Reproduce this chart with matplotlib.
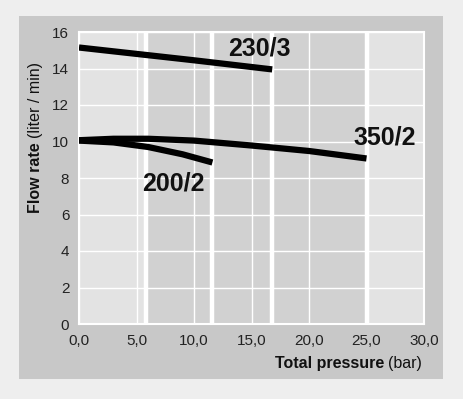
import numpy as np
import matplotlib
matplotlib.use('Agg')
import matplotlib.pyplot as plt
from matplotlib.patches import Rectangle

plt.rcParams['font.family'] = ['Liberation Sans', 'DejaVu Sans']

# pump curves: pressure (bar) vs flow rate (l/min)
p_230 = [0, 5, 10, 16.8]
q_230 = [15.15, 14.8, 14.45, 13.95]
p_350 = [0, 3, 6, 10, 15, 20, 25]
q_350 = [10.07, 10.15, 10.15, 10.05, 9.78, 9.48, 9.07]
p_200 = [0, 3, 6, 9, 11.6]
q_200 = [10.05, 9.95, 9.7, 9.3, 8.85]

labels = ['230/3', '350/2', '200/2']
label_pos = [(15.7, 15.1), (26.6, 10.2), (8.2, 7.7)]

limit_lines = [5.8, 11.6, 16.8, 25.0]   # thick white verticals
band = (5.8, 25.0)                      # darker region

xticks = [0, 5, 10, 15, 20, 25, 30]
yticks = [0, 2, 4, 6, 8, 10, 12, 14, 16]

W, H = 463, 399
fig = plt.figure(figsize=(W/100, H/100), dpi=100)
fig.patch.set_facecolor('#eeeeee')

# grey panel behind the chart
fig.patches.append(Rectangle((19/W, 1-379/H), 424/W, 363/H,
                             transform=fig.transFigure, facecolor='#c8c8c8',
                             edgecolor='none', zorder=-1))

ax = fig.add_axes([79/W, 1-324/H, 345/W, 292/H])
ax.set_zorder(2)
ax.set_facecolor('#e3e3e3')
ax.axvspan(band[0], band[1], color='#d1d1d1', zorder=0, lw=0)

ax.set_xlim(0, 30)
ax.set_ylim(0, 16)
ax.set_xticks(xticks)
ax.set_yticks(yticks)
ax.set_xticklabels([('%.1f' % t).replace('.', ',') for t in xticks])
ax.tick_params(length=0, labelsize=11, colors='#222222', pad=7)
ax.grid(True, color='white', lw=1.0, zorder=1)
ax.set_axisbelow(True)
for s in ax.spines.values():
    s.set_color('white')
    s.set_linewidth(1.5)

for x in limit_lines:
    ax.axvline(x, color='white', lw=3.2, zorder=2)

ax.plot(p_230, q_230, color='black', lw=4.5, zorder=3, solid_capstyle='butt')
ax.plot(p_350, q_350, color='black', lw=4.5, zorder=3, solid_capstyle='butt')
ax.plot(p_200, q_200, color='black', lw=4.5, zorder=3, solid_capstyle='butt')

for txt, (x, y) in zip(labels, label_pos):
    ax.text(x, y, txt, fontsize=18, fontweight='bold', ha='center', va='center',
            color='#111111', zorder=4)

# axis titles: bold part + normal part
fig.canvas.draw()
r = fig.canvas.get_renderer()

t2 = fig.text(422/W, 1-368/H, '(bar)', fontsize=11.5, ha='right', va='baseline',
              color='#111111', zorder=3)
bb = t2.get_window_extent(r)
fig.text((bb.x0 - 4)/W, 1-368/H, 'Total pressure', fontsize=11.5, fontweight='bold',
         ha='right', va='baseline', color='#111111', zorder=3)

t3 = fig.text(40/W, 1-213/H, 'Flow rate', fontsize=11.5, fontweight='bold',
              rotation=90, rotation_mode='anchor', ha='left', va='baseline',
              color='#111111', zorder=3)
bb = t3.get_window_extent(r)
fig.text(40/W, (bb.y1 + 4)/H, '(liter / min)', fontsize=11.5, rotation=90,
         rotation_mode='anchor', ha='left', va='baseline', color='#111111', zorder=3)

fig.savefig('out.png', dpi=100, facecolor=fig.get_facecolor())
